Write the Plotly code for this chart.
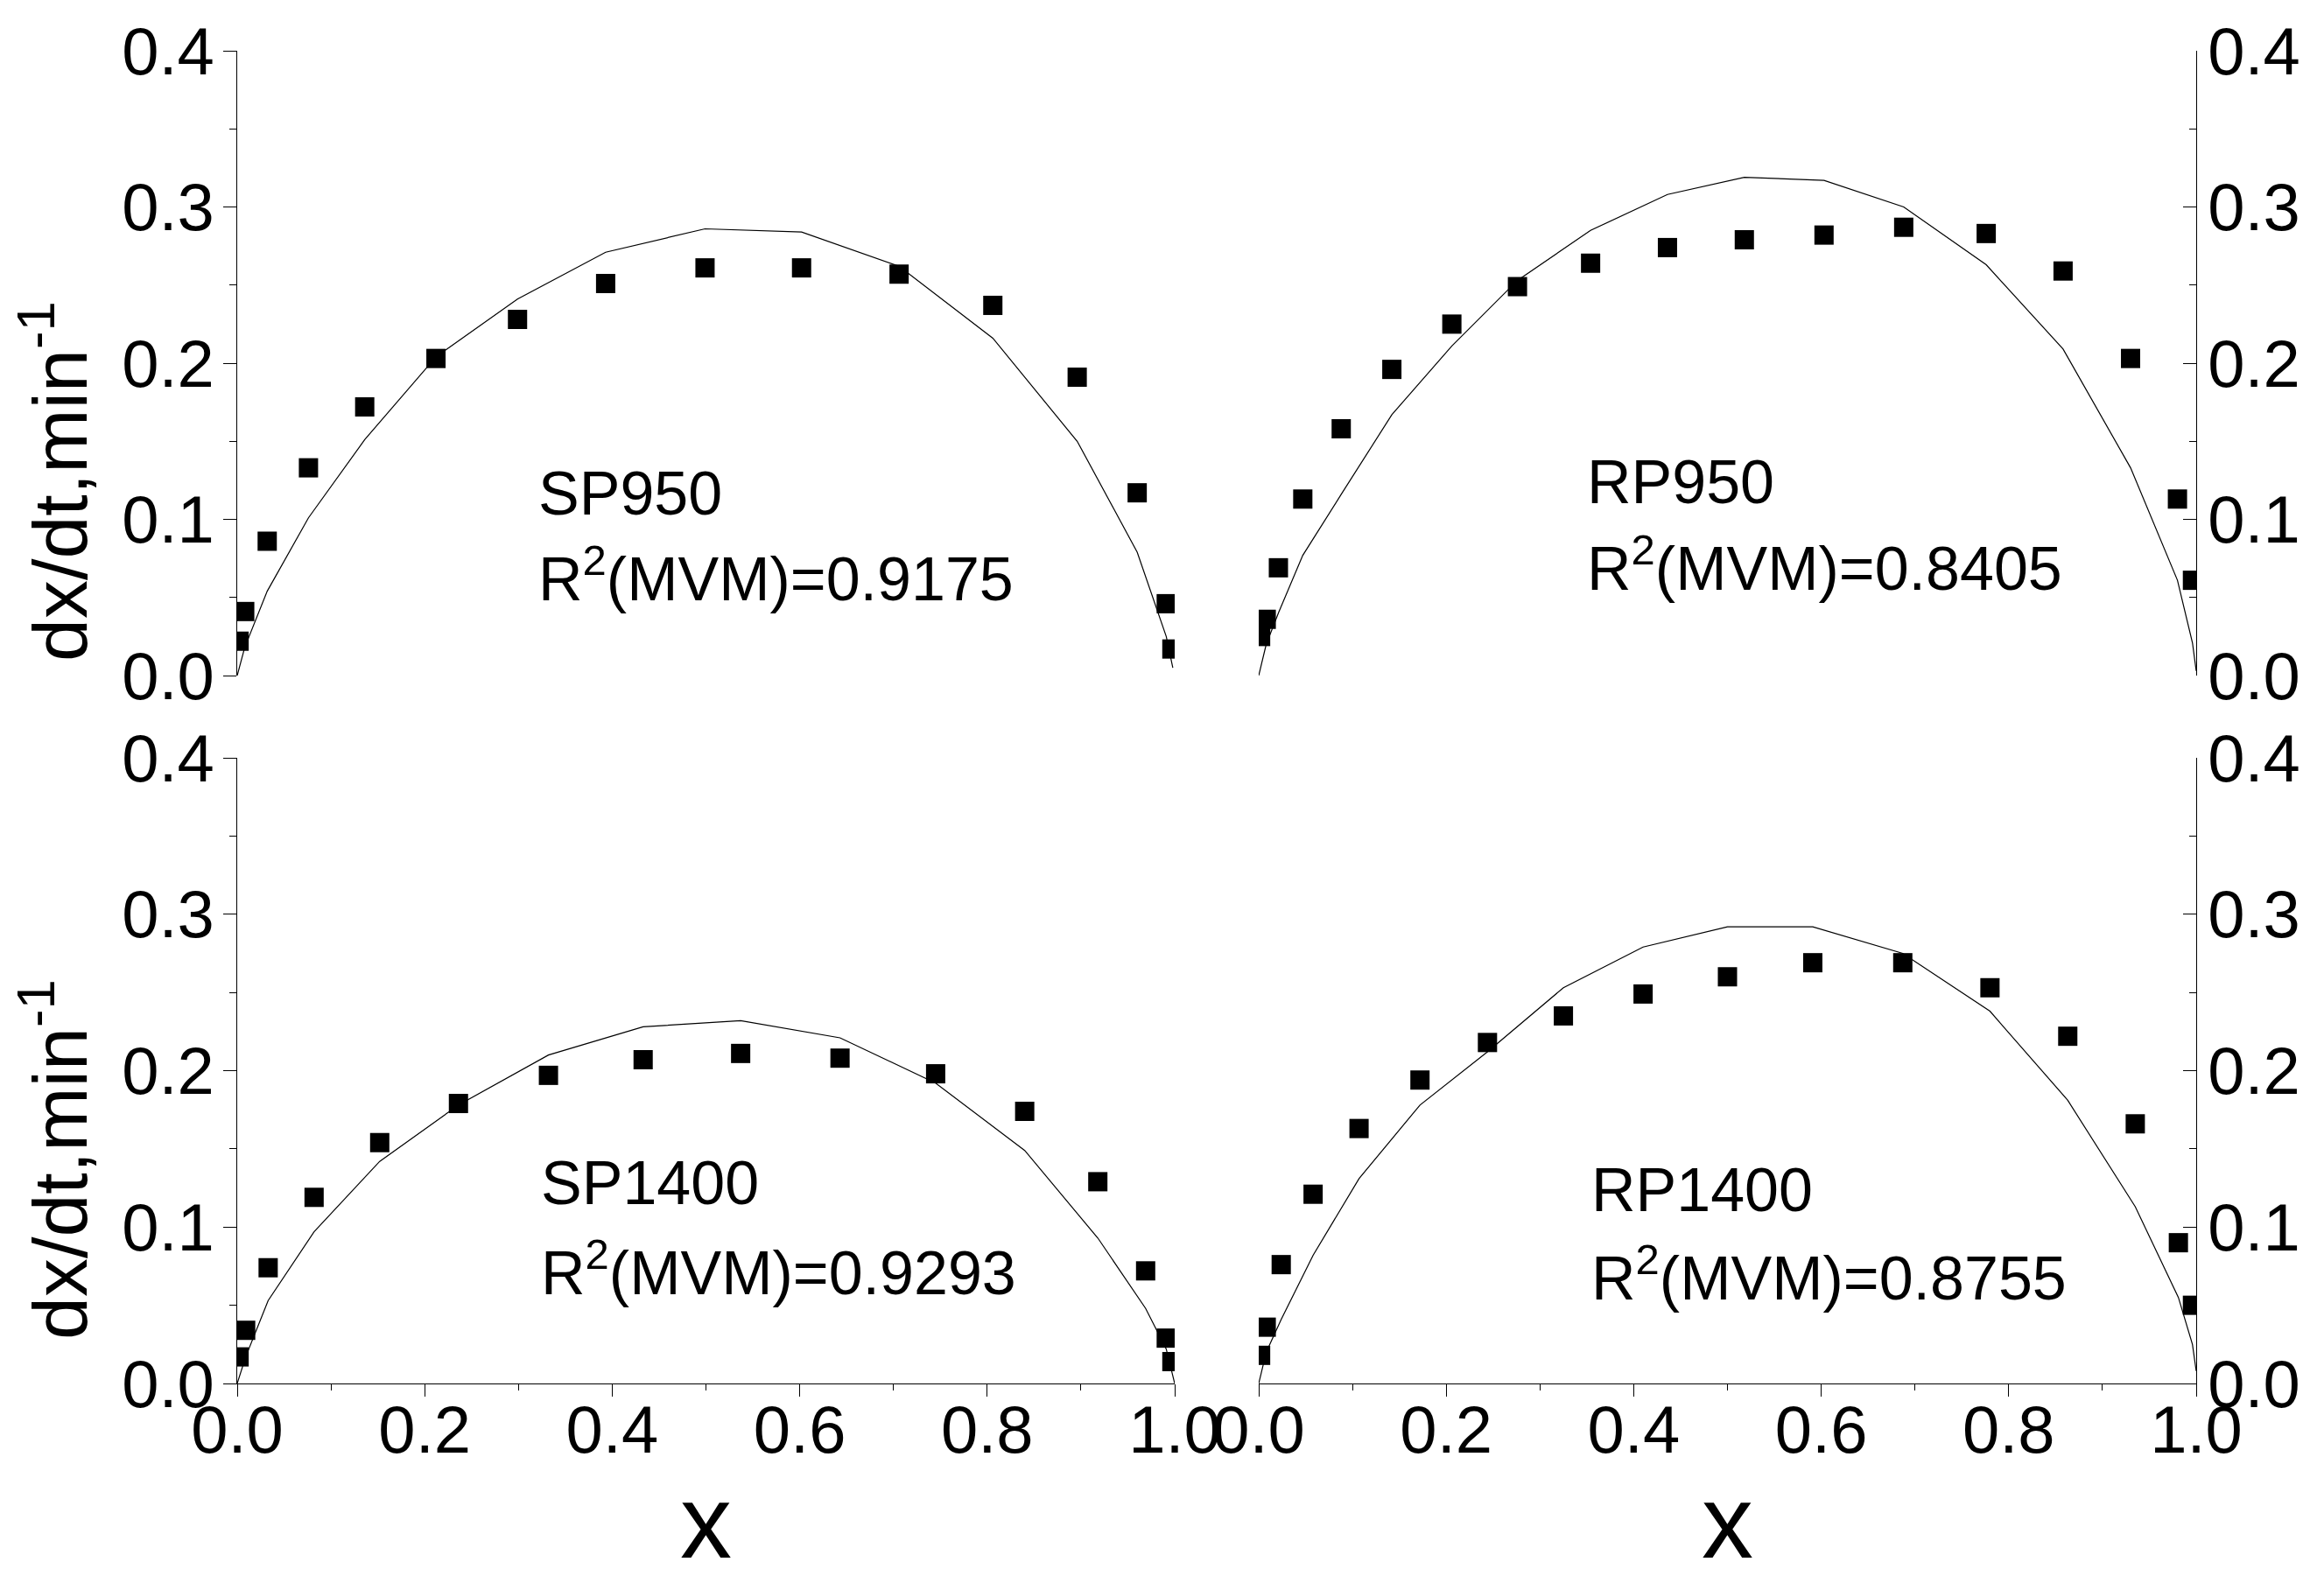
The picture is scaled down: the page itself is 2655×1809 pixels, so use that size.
import plotly.graph_objects as go

# ---------------- data ----------------
# SP950 (top-left)
sp950_x = [0.002, 0.008, 0.032, 0.076, 0.136, 0.212, 0.299, 0.393, 0.499, 0.602, 0.706, 0.806, 0.896, 0.960, 0.991, 0.997]
sp950_y = [0.022, 0.041, 0.086, 0.133, 0.172, 0.203, 0.228, 0.251, 0.261, 0.261, 0.257, 0.237, 0.191, 0.117, 0.046, 0.017]
sp950_fit_x = [0.0, 0.008, 0.032, 0.076, 0.136, 0.212, 0.299, 0.393, 0.499, 0.602, 0.706, 0.806, 0.896, 0.960, 0.991, 0.998]
sp950_fit_y = [0.0, 0.018, 0.054, 0.101, 0.151, 0.204, 0.241, 0.271, 0.286, 0.284, 0.262, 0.216, 0.150, 0.079, 0.025, 0.005]

# RP950 (top-right)
rp950_x = [0.002, 0.008, 0.021, 0.047, 0.088, 0.142, 0.206, 0.276, 0.354, 0.436, 0.518, 0.603, 0.688, 0.776, 0.858, 0.930, 0.980, 0.996]
rp950_y = [0.025, 0.036, 0.069, 0.113, 0.158, 0.196, 0.225, 0.249, 0.264, 0.274, 0.279, 0.282, 0.287, 0.283, 0.259, 0.203, 0.113, 0.061]
rp950_fit_x = [0.0, 0.008, 0.021, 0.047, 0.088, 0.142, 0.206, 0.276, 0.354, 0.436, 0.518, 0.603, 0.688, 0.776, 0.858, 0.930, 0.980, 0.996, 1.0]
rp950_fit_y = [0.0, 0.020, 0.040, 0.077, 0.116, 0.167, 0.211, 0.253, 0.285, 0.308, 0.319, 0.317, 0.300, 0.263, 0.209, 0.133, 0.061, 0.021, 0.003]

# SP1400 (bottom-left)
sp1400_x = [0.002, 0.009, 0.033, 0.082, 0.152, 0.236, 0.332, 0.433, 0.537, 0.643, 0.745, 0.840, 0.918, 0.969, 0.991, 0.997]
sp1400_y = [0.017, 0.034, 0.074, 0.119, 0.154, 0.179, 0.197, 0.207, 0.211, 0.208, 0.198, 0.174, 0.129, 0.072, 0.029, 0.014]
sp1400_fit_x = [0.0, 0.009, 0.033, 0.082, 0.152, 0.236, 0.332, 0.433, 0.537, 0.643, 0.745, 0.840, 0.918, 0.969, 0.991, 1.0]
sp1400_fit_y = [0.0, 0.017, 0.053, 0.097, 0.142, 0.178, 0.210, 0.228, 0.232, 0.221, 0.192, 0.149, 0.093, 0.048, 0.022, 0.0]

# RP1400 (bottom-right)
rp1400_x = [0.002, 0.008, 0.024, 0.058, 0.107, 0.172, 0.244, 0.325, 0.410, 0.500, 0.591, 0.687, 0.780, 0.863, 0.935, 0.981, 0.996]
rp1400_y = [0.018, 0.036, 0.076, 0.121, 0.163, 0.194, 0.218, 0.235, 0.249, 0.260, 0.269, 0.269, 0.253, 0.222, 0.166, 0.090, 0.050]
rp1400_fit_x = [0.0, 0.008, 0.024, 0.058, 0.107, 0.172, 0.244, 0.325, 0.410, 0.500, 0.591, 0.687, 0.780, 0.863, 0.935, 0.981, 0.996, 1.0]
rp1400_fit_y = [0.0, 0.020, 0.041, 0.082, 0.131, 0.178, 0.212, 0.253, 0.279, 0.292, 0.292, 0.275, 0.238, 0.181, 0.113, 0.055, 0.025, 0.008]

labels = ["SP950", "RP950", "SP1400", "RP1400"]
r2_values = ["0.9175", "0.8405", "0.9293", "0.8755"]
y_ticks = [0.0, 0.1, 0.2, 0.3, 0.4]
x_ticks = [0.0, 0.2, 0.4, 0.6, 0.8, 1.0]

# ---------------- layout geometry ----------------
W, H = 2655, 1809
FONT = "Liberation Sans, Arial, sans-serif"


def px_x(p):
    return p / W


def px_y(p):
    return 1 - p / H


dom_left = [px_x(271), px_x(1342)]
dom_right = [px_x(1438), px_x(2509)]
dom_top = [px_y(772), px_y(58)]
dom_bot = [px_y(1581), px_y(866)]

fig = go.Figure()

panels = [
    (sp950_x, sp950_y, sp950_fit_x, sp950_fit_y, "x", "y"),
    (rp950_x, rp950_y, rp950_fit_x, rp950_fit_y, "x2", "y2"),
    (sp1400_x, sp1400_y, sp1400_fit_x, sp1400_fit_y, "x3", "y3"),
    (rp1400_x, rp1400_y, rp1400_fit_x, rp1400_fit_y, "x4", "y4"),
]
for ex, ey, fx, fy, xa, ya in panels:
    fig.add_trace(go.Scatter(x=fx, y=fy, mode="lines", line=dict(color="black", width=1.2),
                             xaxis=xa, yaxis=ya, showlegend=False, hoverinfo="skip"))
    fig.add_trace(go.Scatter(x=ex, y=ey, mode="markers",
                             marker=dict(symbol="square", size=22, color="black", line=dict(width=0)),
                             xaxis=xa, yaxis=ya, showlegend=False))

tickfont = dict(family=FONT, size=76, color="black")


def yaxis_common(domain, anchor, side):
    inside = side == "right"
    return dict(domain=domain, anchor=anchor, side=side, range=[0, 0.4], automargin=False,
                tickvals=y_ticks, ticktext=[f"{v:.1f}" for v in y_ticks],
                showline=True, linecolor="black", linewidth=1, mirror=False,
                ticks="inside" if inside else "outside", ticklen=15, tickwidth=1, tickcolor="black",
                minor=dict(dtick=0.05, tick0=0, ticklen=8, tickwidth=1, tickcolor="black",
                           ticks="inside" if inside else "outside", showgrid=False),
                showgrid=False, zeroline=False, tickfont=tickfont,
                ticklabelstandoff=-5 if not inside else -3, fixedrange=True)


def xaxis_common(domain, anchor, visible):
    if not visible:
        return dict(domain=domain, anchor=anchor, range=[0, 1], visible=False,
                    automargin=False, fixedrange=True)
    return dict(domain=domain, anchor=anchor, range=[0, 1], automargin=False,
                tickvals=x_ticks, ticktext=[f"{v:.1f}" for v in x_ticks],
                showline=True, linecolor="black", linewidth=1,
                ticks="outside", ticklen=14, tickwidth=1, tickcolor="black",
                minor=dict(dtick=0.1, tick0=0, ticklen=7, tickwidth=1, tickcolor="black",
                           ticks="outside", showgrid=False),
                showgrid=False, zeroline=False, tickfont=tickfont,
                ticklabelstandoff=-27, fixedrange=True)


fig.update_layout(
    width=W, height=H,
    margin=dict(l=0, r=0, t=0, b=0, pad=0, autoexpand=False),
    paper_bgcolor="white", plot_bgcolor="white",
    showlegend=False,
    xaxis=xaxis_common(dom_left, "y", False),
    yaxis=yaxis_common(dom_top, "x", "left"),
    xaxis2=xaxis_common(dom_right, "y2", False),
    yaxis2=yaxis_common(dom_top, "x2", "right"),
    xaxis3=xaxis_common(dom_left, "y3", True),
    yaxis3=yaxis_common(dom_bot, "x3", "left"),
    xaxis4=xaxis_common(dom_right, "y4", True),
    yaxis4=yaxis_common(dom_bot, "x4", "right"),
)

annfont = dict(family=FONT, size=70, color="black")
ann_pos = [(613, 564, 657), (1811, 551, 645), (616, 1352, 1450), (1816, 1360, 1456)]
annotations = []
for lab, r2, (ax, ay1, ay2) in zip(labels, r2_values, ann_pos):
    annotations.append(dict(text=lab, x=px_x(ax), y=px_y(ay1), xref="paper", yref="paper",
                            xanchor="left", yanchor="middle", showarrow=False, font=annfont))
    annotations.append(dict(text=f"R<sup>2</sup>(MVM)={r2}", x=px_x(ax), y=px_y(ay2), xref="paper", yref="paper",
                            xanchor="left", yanchor="middle", showarrow=False, font=annfont))

titlefont = dict(family=FONT, size=88, color="black")
for yc in (550, 1325):
    annotations.append(dict(text="dx/dt,min<sup>-1</sup>", x=px_x(62), y=px_y(yc), xref="paper", yref="paper",
                            xanchor="center", yanchor="middle", textangle=-90, showarrow=False, font=titlefont))
for xc in (806, 1973):
    annotations.append(dict(text="x", x=px_x(xc), y=px_y(1739), xref="paper", yref="paper",
                            xanchor="center", yanchor="middle", showarrow=False,
                            font=dict(family=FONT, size=118, color="black")))

fig.update_layout(annotations=annotations)
fig.write_html("out.html", config={"displayModeBar": False, "staticPlot": True},
               post_script="document.body.style.margin='0px';")
